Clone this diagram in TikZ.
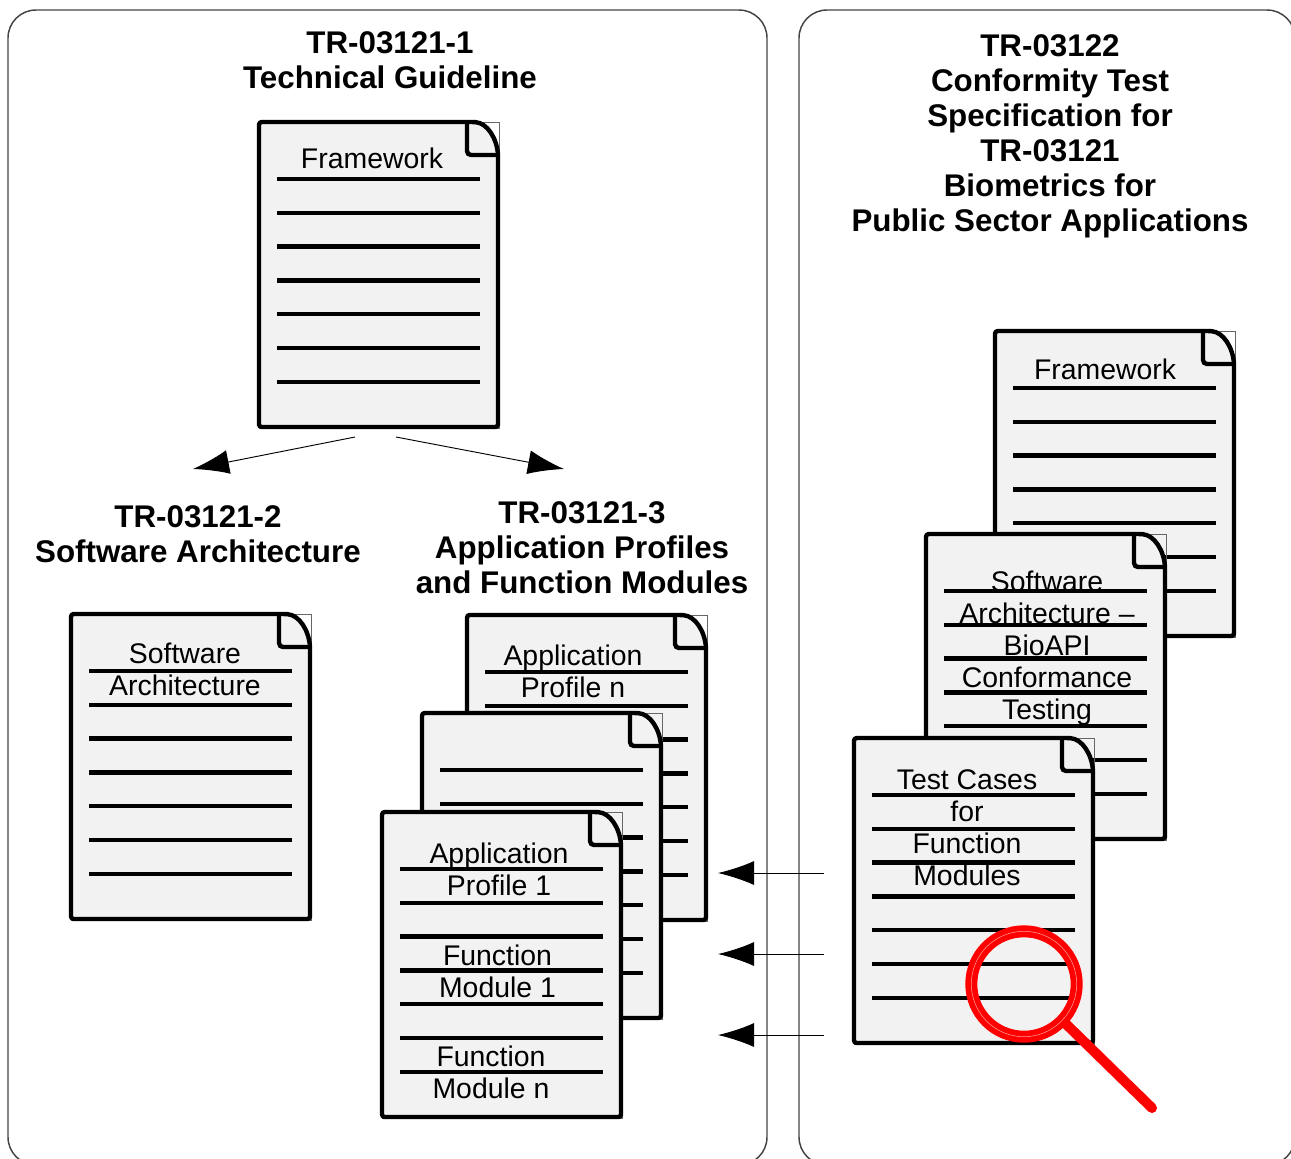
\documentclass[tikz,border=0pt]{standalone}
\usepackage{fontspec}
\setmainfont{Liberation Sans}
\usetikzlibrary{arrows.meta}
\definecolor{pagefill}{HTML}{F2F2F2}
\definecolor{panelline}{HTML}{444444}
\tikzset{panel/.style={draw=panelline, line width=1.1pt, rounded corners=21pt}}
\tikzset{pagebody/.style={draw=black, fill=pagefill, line width=3.3pt, rounded corners=2pt, line join=round}}
\tikzset{pagerule/.style={draw=black, line width=3.4pt}}
\tikzset{pagebox/.style={draw=black!60, line width=0.6pt}}
\tikzset{title/.style={font=\fontsize{23.5}{26.25}\selectfont\bfseries, align=center, inner sep=0pt}}
\tikzset{label/.style={font=\fontsize{21.3}{24}\selectfont, align=center, inner sep=0pt}}
\tikzset{bigarrow/.style={draw=black, line width=0.7pt, -{Latex[length=27pt, width=18pt]}}}
\tikzset{lens/.style={draw=red, line width=9pt}}
\newcommand{\docpage}[3]{
    \coordinate (#3) at (#1, #2);
    \begin{scope}[shift={(#3)}]
        \draw[pagebox] (0, 0) rectangle (240, 306);
        \draw[pagebody] (0, 0) -- (214, 0) [sharp corners] .. controls (228, 1) and (238, 16) .. (239, 33)
            [rounded corners=2pt] -- (239, 305) -- (0, 305) -- cycle;
        \draw[draw=black, line width=3.3pt, rounded corners=3pt] (208, 1) -- (208, 33) -- (239, 33);
        \foreach \rule in {0, ..., 6} {
            \draw[pagerule] (18, 57 + 33.8 * \rule) -- (220.5, 57 + 33.8 * \rule);
        }
    \end{scope}
}
\begin{document}
\begin{tikzpicture}[x=0.75pt, y=-0.75pt]
    \useasboundingbox (0, 0) rectangle (1291, 1158);
    \begin{scope}
        \clip (0, 0) rectangle (1291, 1158);
        \draw[panel] (8, 10) rectangle (767, 1165);
        \draw[panel] (799, 10) rectangle (1295, 1165);
    \end{scope}
    % left panel
    \node[title] (guideTitle) at (390, 60) {TR-03121-1\\Technical Guideline};
    \docpage{259}{122}{frameLeft}
    \node[label] (frameLeftText) at (372, 158) {Framework};
    \coordinate (splitA) at (355, 437);
    \coordinate (splitB) at (396, 437);
    \coordinate (archEnd) at (193, 469);
    \coordinate (profEnd) at (564, 469);
    \draw[bigarrow] (splitA) -- (archEnd);
    \draw[bigarrow] (splitB) -- (profEnd);
    \node[title] (archTitle) at (198, 534) {TR-03121-2\\Software Architecture};
    \node[title] (profTitle) at (582, 548) {TR-03121-3\\Application Profiles\\and Function Modules};
    \docpage{71}{614}{archPage}
    \node[label] (archText) at (185, 669) {Software\\Architecture};
    \docpage{467}{615}{profN}
    \node[label] (profNText) at (573, 671) {Application\\Profile n};
    \docpage{422}{713}{profMid}
    \docpage{382}{812}{profOne}
    \node[label] (profOneText) at (499, 869) {Application\\Profile 1};
    \node[label] (modOneText) at (497.5, 971) {Function\\Module 1};
    \node[label] (modNText) at (491, 1072) {Function\\Module n};
    % right panel
    \node[title] (testTitle) at (1050, 136.5) {TR-03122\\Conformity Test\\Specification for\\TR-03121\\Biometrics for\\Public Sector Applications};
    \docpage{995}{331}{frameRight}
    \node[label] (frameRightText) at (1105, 369) {Framework};
    \docpage{926}{534}{bioPage}
    \node[label] (bioText) at (1047, 648) {Software\\Architecture --\\BioAPI\\Conformance\\Testing};
    \docpage{854}{738}{casePage}
    \node[label] (caseText) at (967, 828) {Test Cases\\for\\Function\\Modules};
    % references back to the profiles
    \foreach \name/\ypos in {caseA/873, caseB/954, caseC/1035} {
        \coordinate (\name Start) at (824, \ypos);
        \coordinate (\name End) at (718, \ypos);
        \draw[bigarrow] (\name Start) -- (\name End);
    }
    % magnifier
    \coordinate (lensMid) at (1024, 984);
    \coordinate (gripA) at (1066, 1024);
    \coordinate (gripB) at (1152, 1108);
    \draw[draw=red, line width=7.5pt, line cap=round] (gripA) -- (gripB);
    \draw[lens] (lensMid) circle [radius=52.7];
    \draw[draw=white!60!red, line width=0.4pt] (lensMid) circle [radius=52.7];
\end{tikzpicture}
\end{document}
